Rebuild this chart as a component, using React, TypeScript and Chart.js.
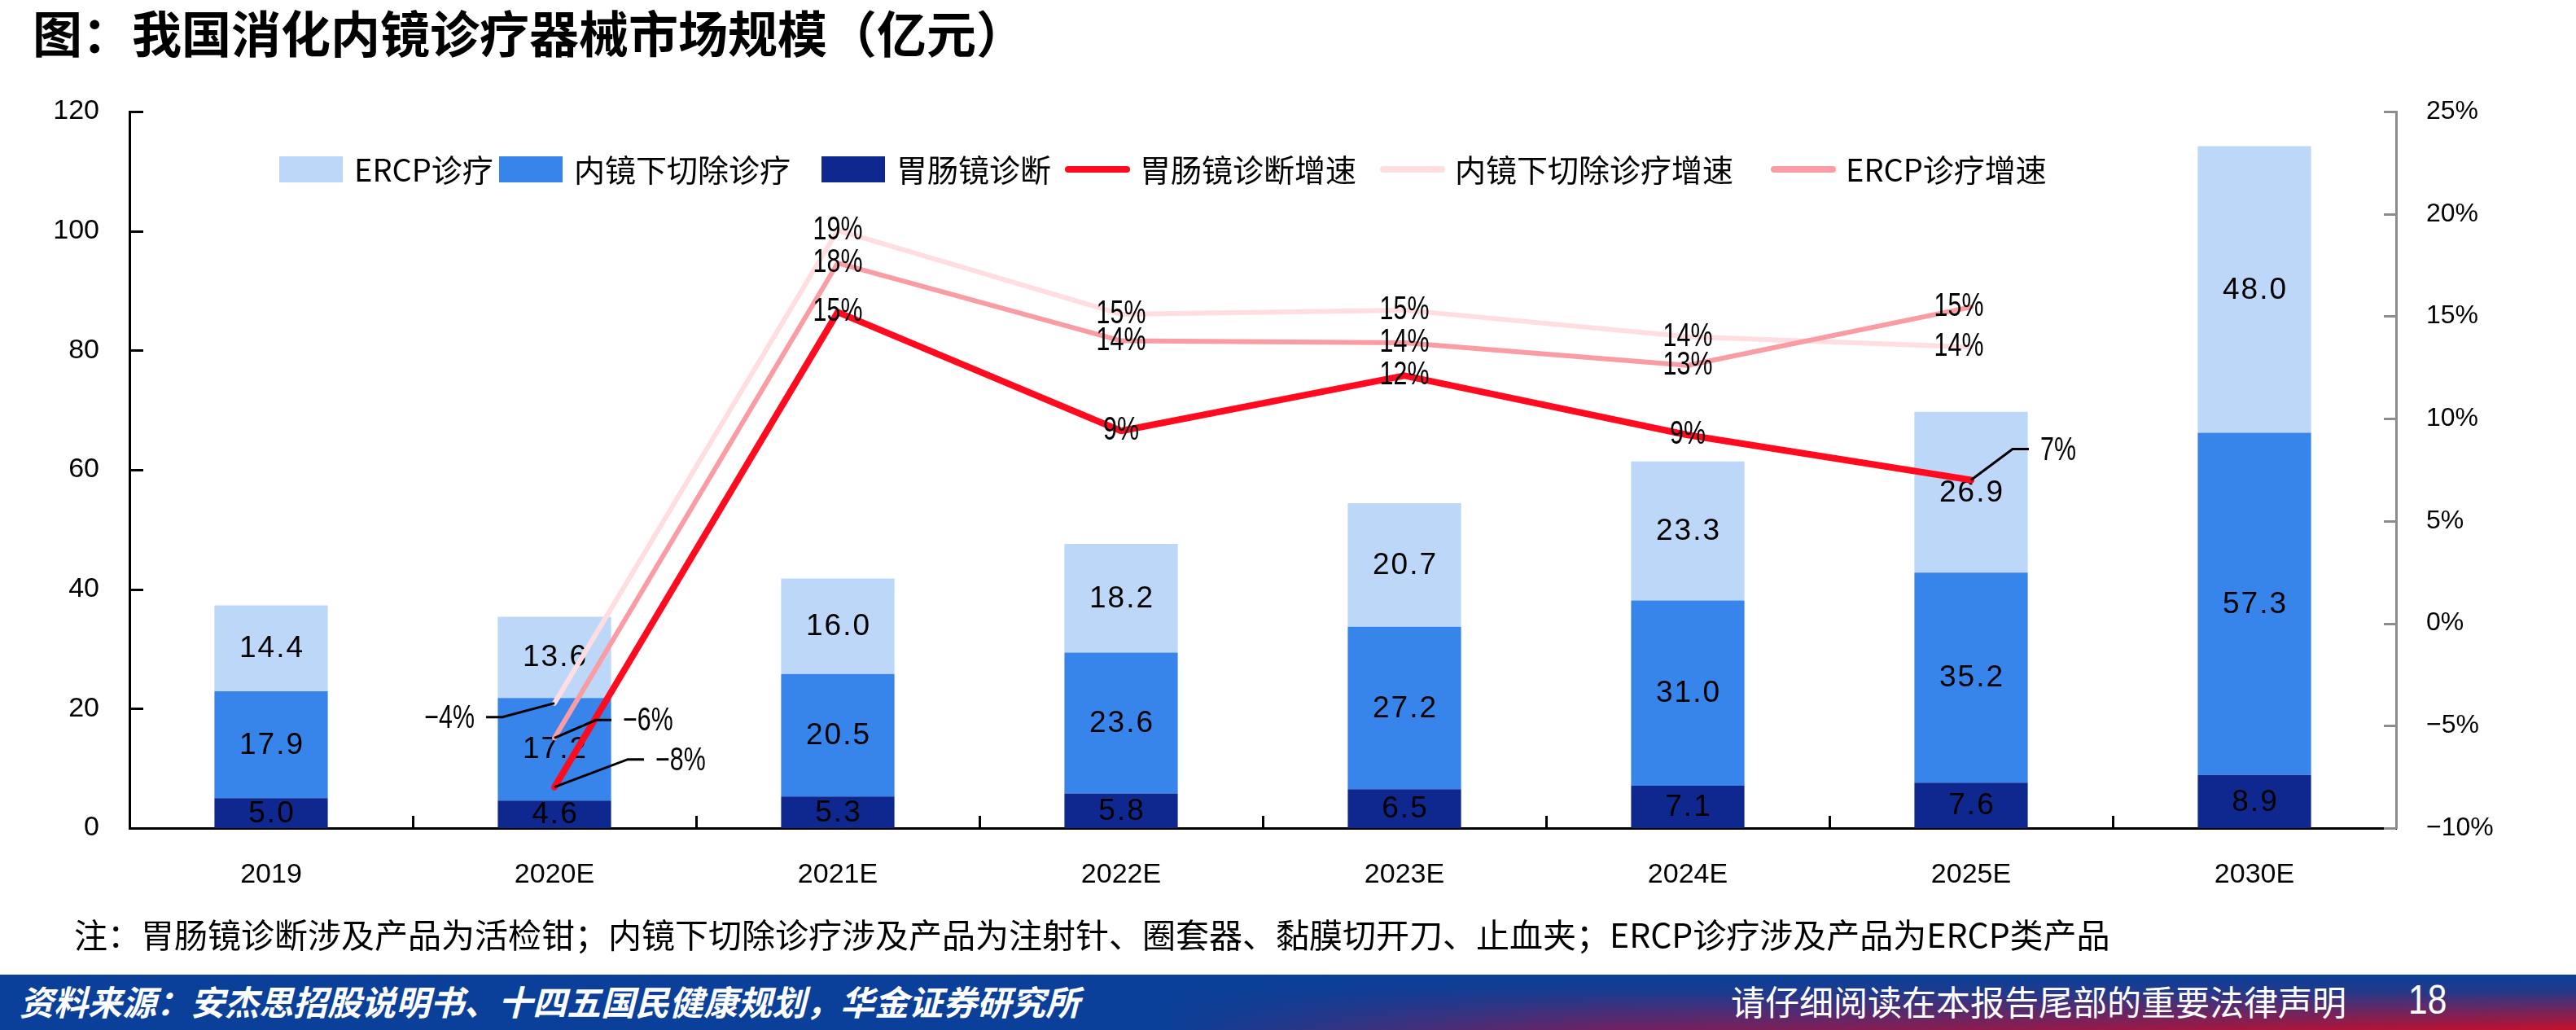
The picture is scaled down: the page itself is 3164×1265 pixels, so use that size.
import React, { useEffect, useRef } from 'react';
import { Chart, registerables } from 'chart.js';

Chart.register(...registerables);

// ---------- data ----------
const categories = ['2019', '2020E', '2021E', '2022E', '2023E', '2024E', '2025E', '2030E'];
const gastroDiagnosis = [5.0, 4.6, 5.3, 5.8, 6.5, 7.1, 7.6, 8.9];
const endoResection = [17.9, 17.2, 20.5, 23.6, 27.2, 31.0, 35.2, 57.3];
const ercpTreatment = [14.4, 13.6, 16.0, 18.2, 20.7, 23.3, 26.9, 48.0];
const gastroGrowth = [null, -8.0, 15.2, 9.4, 12.1, 9.2, 7.0, null];
const resectionGrowth = [null, -3.9, 19.2, 15.1, 15.3, 14.0, 13.5, null];
const ercpGrowth = [null, -5.6, 17.6, 13.8, 13.7, 12.6, 15.45, null];
const seriesNames = ['胃肠镜诊断', '内镜下切除诊疗', 'ERCP诊疗', '胃肠镜诊断增速', '内镜下切除诊疗增速', 'ERCP诊疗增速'];
const leftTicks = { min: 0, max: 120, step: 20 };
const rightTicks = { min: -10, max: 25, step: 5 };

// ---------- layout / style ----------
const W = 3164;
const H = 1265;
const COLORS = ['#0F2890', '#3784EA', '#BCD7F8', '#FF0A1E', '#FFDDE1', '#FA9CA4'];
const LEGEND_ORDER = [2, 1, 0, 3, 4, 5];
const LEGEND_X = [343, 613, 1009, 1308, 1695, 2175];
const LEGEND_Y = 208;
const CJK = '"Noto Sans CJK SC", "Noto Sans", sans-serif';
const NUM = '"Liberation Sans", Arial, sans-serif';

const leader: Record<string, { ex: number; ey: number; hx: number; align: 'left' | 'right' }> = {
  '3-1': { ex: 90, ey: -34, hx: 110, align: 'left' },
  '3-6': { ex: 51, ey: -38, hx: 71, align: 'left' },
  '4-1': { ex: -64, ey: 17, hx: -84, align: 'right' },
  '5-1': { ex: 51, ey: -22, hx: 70, align: 'left' },
};
const labelShift: Record<string, number> = { '4-6': -15, '5-6': -15 };

const fmtPct = (v: number) => {
  const r = Math.round(v);
  return (r < 0 ? '\u2212' : '') + Math.abs(r) + '%';
};

function narrowText(ctx: any, txt: string, x: number, y: number, align: CanvasTextAlign, sx = 0.76) {
  ctx.save();
  ctx.translate(x, y);
  ctx.scale(sx, 1);
  ctx.textAlign = align;
  ctx.fillText(txt, 0, 0);
  ctx.restore();
}

const drawPlugin = {
  id: 'customDraw',
  beforeDatasetsDraw(chart: any) {
    const ctx = chart.ctx;
    const { left, right, bottom } = chart.chartArea;
    const y = chart.scales.y;
    const y1 = chart.scales.y1;
    const x = chart.scales.x;
    ctx.save();
    ctx.lineWidth = 3;
    ctx.strokeStyle = '#000';
    for (const t of y.ticks) {
      const py = Math.round(y.getPixelForValue(t.value)) + 0.5;
      ctx.beginPath();
      ctx.moveTo(left, py);
      ctx.lineTo(left + 17, py);
      ctx.stroke();
    }
    for (let i = 1; i < categories.length; i++) {
      const px = Math.round((x.getPixelForValue(i - 1) + x.getPixelForValue(i)) / 2) + 0.5;
      ctx.beginPath();
      ctx.moveTo(px, bottom);
      ctx.lineTo(px, bottom - 15);
      ctx.stroke();
    }
    ctx.strokeStyle = '#8C8C8C';
    for (const t of y1.ticks) {
      const py = Math.round(y1.getPixelForValue(t.value)) + 0.5;
      ctx.beginPath();
      ctx.moveTo(right, py);
      ctx.lineTo(right - 15, py);
      ctx.stroke();
    }
    ctx.restore();
  },
  afterDatasetDraw(chart: any, args: any) {
    const ds = chart.data.datasets[args.index];
    if (ds.type === 'line') return;
    const ctx = chart.ctx;
    const meta = chart.getDatasetMeta(args.index);
    ctx.save();
    ctx.fillStyle = '#000';
    ctx.font = `37px ${NUM}`;
    ctx.textAlign = 'center';
    ctx.textBaseline = 'middle';
    try { ctx.letterSpacing = '2px'; } catch (e) { /* ignore */ }
    meta.data.forEach((el: any, i: number) => {
      const v = ds.data[i];
      if (v == null) return;
      const c = el.getCenterPoint();
      ctx.fillText(Number(v).toFixed(1), c.x + 1, c.y + 1);
    });
    ctx.restore();
  },
  afterDatasetsDraw(chart: any) {
    const ctx = chart.ctx;
    ctx.save();
    ctx.fillStyle = '#000';
    ctx.font = `40px ${NUM}`;
    ctx.textBaseline = 'middle';
    chart.data.datasets.forEach((ds: any, di: number) => {
      if (ds.type !== 'line') return;
      const meta = chart.getDatasetMeta(di);
      meta.data.forEach((el: any, i: number) => {
        const v = ds.data[i];
        if (v == null) return;
        const key = `${di}-${i}`;
        const txt = fmtPct(v);
        const L = leader[key];
        if (L) {
          ctx.strokeStyle = '#000';
          ctx.lineWidth = 3;
          ctx.beginPath();
          ctx.moveTo(el.x, el.y);
          ctx.lineTo(el.x + L.ex, el.y + L.ey);
          ctx.lineTo(el.x + L.hx, el.y + L.ey);
          ctx.stroke();
          const tx = el.x + L.hx + (L.align === 'left' ? 14 : -14);
          narrowText(ctx, txt, tx, el.y + L.ey + 2, L.align);
        } else {
          narrowText(ctx, txt, el.x + (labelShift[key] || 0), el.y, 'center');
        }
      });
    });
    ctx.restore();
  },
  afterDraw(chart: any) {
    const ctx = chart.ctx;
    ctx.save();
    ctx.font = `38px ${CJK}`;
    ctx.textBaseline = 'middle';
    ctx.textAlign = 'left';
    LEGEND_ORDER.forEach((di, k) => {
      const ds = chart.data.datasets[di];
      const x0 = LEGEND_X[k];
      if (ds.type === 'line') {
        ctx.strokeStyle = ds.borderColor;
        ctx.lineWidth = 8;
        ctx.lineCap = 'round';
        ctx.beginPath();
        ctx.moveTo(x0 + 4, LEGEND_Y);
        ctx.lineTo(x0 + 76, LEGEND_Y);
        ctx.stroke();
      } else {
        ctx.fillStyle = ds.backgroundColor;
        ctx.fillRect(x0, LEGEND_Y - 16, 78, 32);
      }
      ctx.fillStyle = '#000';
      ctx.fillText(ds.label, x0 + 92, LEGEND_Y + 1);
    });
    ctx.restore();
  },
};

export default function App() {
  const ref = useRef<HTMLCanvasElement>(null);

  useEffect(() => {
    const canvas = ref.current;
    if (!canvas) return;
    const barCommon = {
      type: 'bar' as const,
      yAxisID: 'y',
      stack: 'market',
      barPercentage: 0.4,
      categoryPercentage: 1.0,
      borderWidth: 0,
      order: 10,
    };
    const lineCommon = {
      type: 'line' as const,
      yAxisID: 'y1',
      pointRadius: 0,
      pointHoverRadius: 0,
      fill: false,
      tension: 0,
      borderCapStyle: 'round' as const,
      borderJoinStyle: 'round' as const,
    };
    const chart = new Chart(canvas, {
      type: 'bar',
      data: {
        labels: categories,
        datasets: [
          { ...barCommon, label: seriesNames[0], data: gastroDiagnosis, backgroundColor: COLORS[0] },
          { ...barCommon, label: seriesNames[1], data: endoResection, backgroundColor: COLORS[1] },
          { ...barCommon, label: seriesNames[2], data: ercpTreatment, backgroundColor: COLORS[2] },
          { ...lineCommon, label: seriesNames[3], data: gastroGrowth, borderColor: COLORS[3], backgroundColor: COLORS[3], borderWidth: 8, order: 1 },
          { ...lineCommon, label: seriesNames[4], data: resectionGrowth, borderColor: COLORS[4], backgroundColor: COLORS[4], borderWidth: 6, order: 3 },
          { ...lineCommon, label: seriesNames[5], data: ercpGrowth, borderColor: COLORS[5], backgroundColor: COLORS[5], borderWidth: 6, order: 2 },
        ] as any,
      },
      options: {
        responsive: false,
        maintainAspectRatio: false,
        devicePixelRatio: 1,
        animation: false,
        events: [],
        layout: { padding: { top: 137, left: 0, right: 0, bottom: 0 } },
        plugins: { legend: { display: false }, tooltip: { enabled: false }, title: { display: false } },
        scales: {
          x: {
            type: 'category',
            stacked: true,
            offset: true,
            grid: { display: false },
            border: { display: true, color: '#000', width: 3 },
            ticks: { color: '#000', font: { family: NUM, size: 34 }, padding: 29, maxRotation: 0, autoSkip: false },
            afterFit: (s: any) => { s.height = 248; },
          },
          y: {
            type: 'linear',
            position: 'left',
            stacked: true,
            min: leftTicks.min,
            max: leftTicks.max,
            grid: { display: false },
            border: { display: true, color: '#000', width: 3 },
            ticks: { stepSize: leftTicks.step, color: '#000', font: { family: NUM, size: 34 }, padding: 29 },
            afterFit: (s: any) => { s.width = 159; },
          },
          y1: {
            type: 'linear',
            position: 'right',
            min: rightTicks.min,
            max: rightTicks.max,
            grid: { display: false },
            border: { display: true, color: '#8C8C8C', width: 3 },
            ticks: {
              stepSize: rightTicks.step,
              color: '#000',
              font: { family: NUM, size: 32 },
              padding: 29,
              callback: (v: any) => (Number(v) < 0 ? '\u2212' : '') + Math.abs(Number(v)) + '%',
            },
            afterFit: (s: any) => { s.width = 221; },
          },
        },
      } as any,
      plugins: [drawPlugin],
    });
    return () => chart.destroy();
  }, []);

  return (
    <div style={{ position: 'absolute', left: 0, top: 0, width: W, height: H, background: '#fff', overflow: 'hidden' }}>
      <canvas ref={ref} width={W} height={H} style={{ position: 'absolute', left: 0, top: 0, width: W, height: H }} />
      <div style={{ position: 'absolute', left: 40, top: 8, height: 62, lineHeight: '62px', fontFamily: CJK, fontWeight: 700, fontSize: 61, color: '#000', whiteSpace: 'nowrap' }}>
        图：我国消化内镜诊疗器械市场规模（亿元）
      </div>
      <div style={{ position: 'absolute', left: 91, top: 1125, height: 42, lineHeight: '42px', fontFamily: CJK, fontSize: 41, color: '#000', whiteSpace: 'nowrap' }}>
        注：胃肠镜诊断涉及产品为活检钳；内镜下切除诊疗涉及产品为注射针、圈套器、黏膜切开刀、止血夹；ERCP诊疗涉及产品为ERCP类产品
      </div>
      <div
        style={{
          position: 'absolute', left: 0, top: 1197, width: W, height: H - 1197,
          background: 'linear-gradient(to bottom, rgba(10,64,153,1) 0%, rgba(10,64,153,0.85) 30%, rgba(10,64,153,0) 100%), linear-gradient(to right, #0A4099 0%, #0A4099 45%, #6E2262 62%, #C4102C 100%)',
        }}
      />
      <div style={{ position: 'absolute', left: 24, top: 1206, height: 46, lineHeight: '46px', fontFamily: CJK, fontWeight: 700, fontStyle: 'italic', fontSize: 42, color: '#fff', whiteSpace: 'nowrap' }}>
        资料来源：安杰思招股说明书、十四五国民健康规划，华金证券研究所
      </div>
      <div style={{ position: 'absolute', right: W - 2882, top: 1208, height: 42, lineHeight: '42px', fontFamily: CJK, fontSize: 42, color: '#fff', whiteSpace: 'nowrap' }}>
        请仔细阅读在本报告尾部的重要法律声明
      </div>
      <div style={{ position: 'absolute', left: 2958, top: 1203, height: 50, lineHeight: '50px', fontFamily: NUM, fontSize: 50, color: '#fff', whiteSpace: 'nowrap', transform: 'scaleX(0.85)', transformOrigin: 'left center' }}>
        18
      </div>
    </div>
  );
}
